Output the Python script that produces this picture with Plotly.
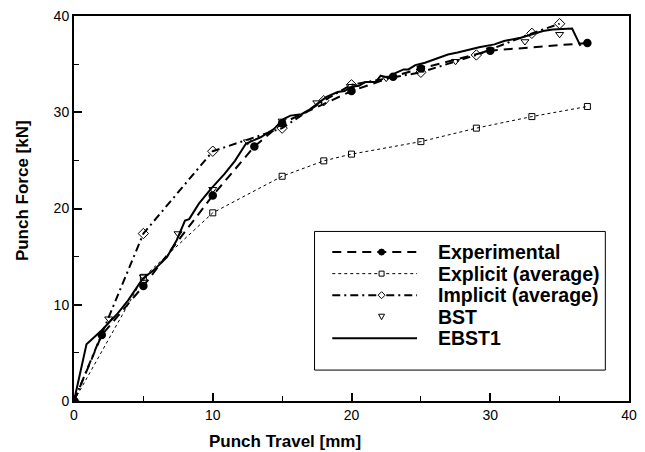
import plotly.graph_objects as go

# ---- data ----
exp_x = [0, 2, 5, 10, 13, 15, 20, 23, 25, 30, 37]
exp_y = [0, 6.85, 11.95, 21.35, 26.45, 28.85, 32.2, 33.7, 34.55, 36.4, 37.2]

explicit_x = [0, 5, 10, 15, 18, 20, 25, 29, 33, 37]
explicit_y = [0, 12.85, 19.55, 23.35, 24.95, 25.65, 26.95, 28.35, 29.55, 30.6]

implicit_x = [0, 5, 10, 15, 18, 20, 25, 29, 33, 35]
implicit_y = [0, 17.4, 25.95, 28.35, 31.2, 32.85, 34.15, 35.95, 38.2, 39.2]

bst_x = [0, 2.5, 5, 7.5, 10, 12.5, 15, 17.5, 20, 22.5, 25, 27.5, 30, 32.5, 35]
bst_y = [0, 8.55, 12.9, 17.4, 22.0, 26.95, 29.1, 31.0, 32.7, 33.55, 34.6, 35.3, 36.5, 37.35, 38.1]

ebst_x = [0, 0.9, 2.0, 3.15, 3.9, 4.95, 5.75, 6.7, 7.4, 8.0, 8.3, 9.0, 9.9, 10.85,
          11.6, 12.4, 12.65, 13.45, 14.4, 15.1, 15.6, 16.4, 17.0, 17.5, 18.2, 19.0,
          19.5, 20.0, 20.55, 21.0, 21.75, 22.1, 22.6, 23.2, 23.75, 24.1, 24.6, 25.3,
          26.95, 27.65, 28.6, 29.2, 30.3, 31.0, 32.2, 33.0, 33.8, 34.5, 35.9, 36.5]
ebst_y = [0, 5.9, 7.35, 9.1, 10.45, 12.7, 13.6, 14.95, 16.7, 18.75, 18.9, 20.5, 22.1, 23.6,
          24.95, 26.75, 26.9, 27.4, 28.25, 29.3, 29.65, 29.8, 30.3, 30.85, 31.6, 32.1,
          32.2, 32.65, 32.75, 33.15, 33.15, 33.8, 33.6, 34.1, 34.45, 34.45, 34.9, 35.15,
          36.0, 36.2, 36.55, 36.75, 37.05, 37.4, 37.75, 38.1, 38.45, 38.6, 38.7, 36.9]

x_ticks = [0, 10, 20, 30, 40]
y_ticks = [0, 10, 20, 30, 40]

series_names = ["Experimental", "Explicit (average)", "Implicit (average)", "BST", "EBST1"]

FONT = "Liberation Sans, Arial, Helvetica, sans-serif"

# ---- styles ----
W, H = 645, 452
ML, MR, MT, MB = 74, 8, 15, 51
PW, PH = W - ML - MR, H - MT - MB

styles = [
    dict(mode="lines+markers", line=dict(color="black", width=2, dash="9px,6px"),
         marker=dict(symbol="circle", size=8.5, color="black")),
    dict(mode="lines+markers", line=dict(color="black", width=1, dash="3px,3px"),
         marker=dict(symbol="square-open", size=6, color="black", line=dict(width=1))),
    dict(mode="lines+markers", line=dict(color="black", width=2, dash="8px,4px,2px,4px"),
         marker=dict(symbol="diamond-open", size=8, color="black", line=dict(width=1))),
    dict(mode="markers",
         marker=dict(symbol="triangle-down-open", size=7, color="black", line=dict(width=1))),
    dict(mode="lines", line=dict(color="black", width=2)),
]
xs = [exp_x, explicit_x, implicit_x, bst_x, ebst_x]
ys = [exp_y, explicit_y, implicit_y, bst_y, ebst_y]

fig = go.Figure()
for name, x, y, st in zip(series_names, xs, ys, styles):
    fig.add_trace(go.Scatter(x=x, y=y, name=name, showlegend=False, **st))

axis_common = dict(
    showline=True, linecolor="black", linewidth=2, mirror=True,
    ticks="inside", ticklen=8, tickwidth=1.5, tickcolor="black",
    showgrid=False, zeroline=False, ticklabeloverflow="allow",
    tickfont=dict(family=FONT, size=14, color="black"),
    minor=dict(ticks="inside", ticklen=5, tickwidth=1, tickcolor="black", dtick=5, showgrid=False),
)
fig.update_xaxes(range=[0, 40], tickvals=x_ticks, ticktext=[str(v) for v in x_ticks], **axis_common)
fig.update_yaxes(range=[0, 40], tickvals=y_ticks, ticktext=[str(v) for v in y_ticks], **axis_common)


# ---- legend drawn as a framed key (page pixel -> paper coords) ----
def px(page_x):
    return (page_x - ML) / PW


def py(page_y):
    return (H - MB - page_y) / PH


shapes = []
annotations = []
box_l, box_r, box_t, box_b = 318, 613, 231, 370
shapes.append(dict(type="rect", xref="paper", yref="paper",
                   x0=px(box_l), x1=px(box_r), y0=py(box_b), y1=py(box_t),
                   line=dict(color="black", width=1), fillcolor="white", layer="above"))
row_y0, row_dy = 251.7, 21.6
line_l, line_r, marker_cx = 336, 422, 386
text_x = 441
for i, (name, st) in enumerate(zip(series_names, styles)):
    yy = py(row_y0 + i * row_dy)
    if "lines" in st["mode"]:
        ln = st["line"]
        shapes.append(dict(type="line", xref="paper", yref="paper",
                           x0=px(line_l), x1=px(line_r), y0=yy, y1=yy, layer="above",
                           line=dict(color="black", width=ln["width"], dash=ln.get("dash", "solid"))))
    if "markers" in st["mode"]:
        sym = st["marker"]["symbol"]
        common = dict(xref="paper", yref="paper", xsizemode="pixel", ysizemode="pixel",
                      xanchor=px(marker_cx), yanchor=yy, layer="above",
                      line=dict(color="black", width=1))
        if sym == "circle":
            shapes.append(dict(type="circle", x0=-3, x1=3, y0=-3, y1=3,
                               fillcolor="black", **common))
        elif sym == "square-open":
            shapes.append(dict(type="rect", x0=-2.5, x1=2.5, y0=-2.5, y1=2.5,
                               fillcolor="white", **common))
        elif sym == "diamond-open":
            shapes.append(dict(type="path", path="M -3.5 0 L 0 3.5 L 3.5 0 L 0 -3.5 Z",
                               fillcolor="white", **common))
        elif sym == "triangle-down-open":
            shapes.append(dict(type="path", path="M -3 2.5 L 3 2.5 L 0 -3 Z",
                               fillcolor="white", **common))
    annotations.append(dict(text="<b>%s</b>" % name, xref="paper", yref="paper",
                            x=px(text_x), y=yy, xanchor="left", yanchor="middle",
                            showarrow=False,
                            font=dict(family=FONT, size=19.5, color="black")))

annotations += [
    dict(text="<b>Punch Travel [mm]</b>", xref="paper", yref="paper",
         x=0.38, y=-0.106, xanchor="center", yanchor="middle", showarrow=False,
         font=dict(family=FONT, size=17, color="black")),
    dict(text="<b>Punch Force [kN]</b>", xref="paper", yref="paper",
         x=-0.0924, y=0.547, xanchor="center", yanchor="middle", showarrow=False,
         textangle=-90, font=dict(family=FONT, size=17, color="black")),
]

fig.update_layout(
    width=W, height=H,
    margin=dict(l=ML, r=MR, t=MT, b=MB),
    plot_bgcolor="white", paper_bgcolor="white",
    showlegend=False,
    shapes=shapes,
    annotations=annotations,
)

fig.write_html("out.html")
